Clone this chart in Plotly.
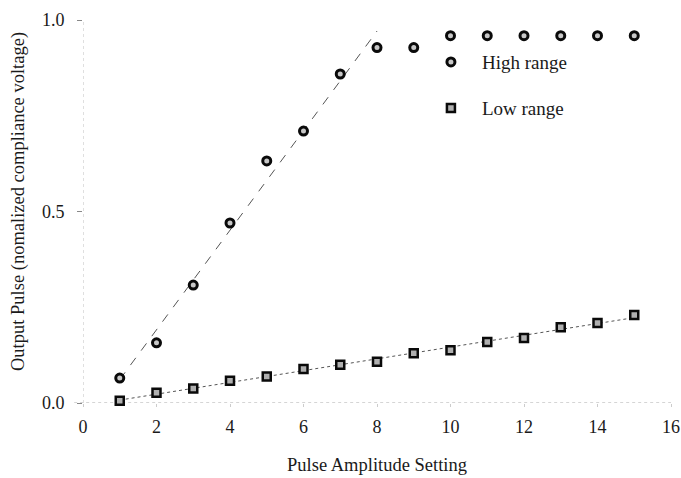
import numpy as np
import plotly.graph_objects as go

# Data
settings = list(range(1, 16))
high_range = [0.065, 0.157, 0.308, 0.47, 0.632, 0.71, 0.859, 0.928, 0.928,
              0.959, 0.959, 0.959, 0.959, 0.959, 0.959]
low_range = [0.006, 0.027, 0.038, 0.058, 0.069, 0.089, 0.10, 0.108, 0.13,
             0.138, 0.159, 0.17, 0.198, 0.209, 0.23]
x_ticks = [0, 2, 4, 6, 8, 10, 12, 14, 16]
y_ticks = [0.0, 0.5, 1.0]

# Linear fits (high range: linear region 1..8, low range: all points)
hx = np.array(settings[:8], dtype=float)
hc = np.polyfit(hx, np.array(high_range[:8]), 1)
high_fit_x = [hx[0], hx[-1]]
high_fit_y = [hc[0] * v + hc[1] for v in high_fit_x]
lx = np.array(settings, dtype=float)
lc = np.polyfit(lx, np.array(low_range), 1)
low_fit_x = [lx[0], lx[-1]]
low_fit_y = [lc[0] * v + lc[1] for v in low_fit_x]

FONT = "Liberation Serif"
TXT = "#1a1a1a"
W, H = 681, 478
ML, MR, MT, MB = 83, 10, 20, 75
fig = go.Figure()

fig.add_trace(go.Scatter(x=high_fit_x, y=high_fit_y, mode="lines",
                         line=dict(color="#555555", width=1, dash="dash"),
                         showlegend=False, hoverinfo="skip", cliponaxis=False))
fig.add_trace(go.Scatter(x=low_fit_x, y=low_fit_y, mode="lines",
                         line=dict(color="#555555", width=1, dash="dot"),
                         showlegend=False, hoverinfo="skip", cliponaxis=False))

fig.add_trace(go.Scatter(x=settings, y=high_range, mode="markers", name="High range",
                         marker=dict(symbol="circle", size=8, color="#c8c8c8",
                                     line=dict(color="#0a0a0a", width=3)),
                         legend="legend", cliponaxis=False))
fig.add_trace(go.Scatter(x=settings, y=low_range, mode="markers", name="Low range",
                         marker=dict(symbol="square", size=8, color="#b0b0b0",
                                     line=dict(color="#0a0a0a", width=2.5)),
                         legend="legend2", cliponaxis=False))

# faint dotted axis lines
fig.add_shape(type="line", xref="x domain", yref="y", x0=-0.015, x1=1, y0=0, y1=0,
              line=dict(color="#aaaaaa", width=1, dash="dot"), layer="below")
fig.add_shape(type="line", xref="x", yref="y domain", x0=0, x1=0, y0=0, y1=1,
              line=dict(color="#c0c0c0", width=1, dash="dot"), layer="below")

# y-axis title as a rotated annotation for exact placement
pw = W - ML - MR
ph = H - MT - MB
fig.add_annotation(text="Output Pulse (nomalized compliance voltage)",
                   xref="paper", yref="paper",
                   x=(18 - ML) / pw, y=(H - MB - 202) / ph,
                   textangle=-90, showarrow=False, xanchor="center", yanchor="middle",
                   font=dict(family=FONT, size=18.5, color=TXT))

fig.update_layout(
    width=W, height=H,
    margin=dict(l=ML, r=MR, t=MT, b=MB),
    paper_bgcolor="white", plot_bgcolor="white",
    font=dict(family=FONT, size=18, color=TXT),
    legend=dict(x=0.573, y=0.89, xanchor="left", yanchor="middle",
                font=dict(family=FONT, size=19, color=TXT),
                bgcolor="rgba(0,0,0,0)", itemwidth=52),
    legend2=dict(x=0.573, y=0.77, xanchor="left", yanchor="middle",
                 font=dict(family=FONT, size=19, color=TXT),
                 bgcolor="rgba(0,0,0,0)", itemwidth=52),
    xaxis=dict(range=[0, 16], tickvals=x_ticks, ticktext=[str(v) for v in x_ticks],
               showgrid=False, zeroline=False, showline=False, automargin=False,
               ticks="outside", ticklen=3, tickcolor="#cccccc",
               ticklabelstandoff=4, ticklabeloverflow="allow",
               tickfont=dict(family=FONT, size=18, color=TXT),
               title=dict(text="Pulse Amplitude Setting", standoff=22,
                          font=dict(family=FONT, size=18.5, color=TXT))),
    yaxis=dict(range=[0, 1], tickvals=y_ticks, ticktext=[f"{v:.1f}" for v in y_ticks],
               showgrid=False, zeroline=False, showline=False, automargin=False,
               ticks="outside", ticklen=5, tickcolor="#888888",
               ticklabelstandoff=9, ticklabeloverflow="allow",
               tickfont=dict(family=FONT, size=18, color=TXT)),
)

fig.write_html("out.html", config={"displayModeBar": False},
               post_script="document.body.style.margin='0';document.body.style.padding='0';")
